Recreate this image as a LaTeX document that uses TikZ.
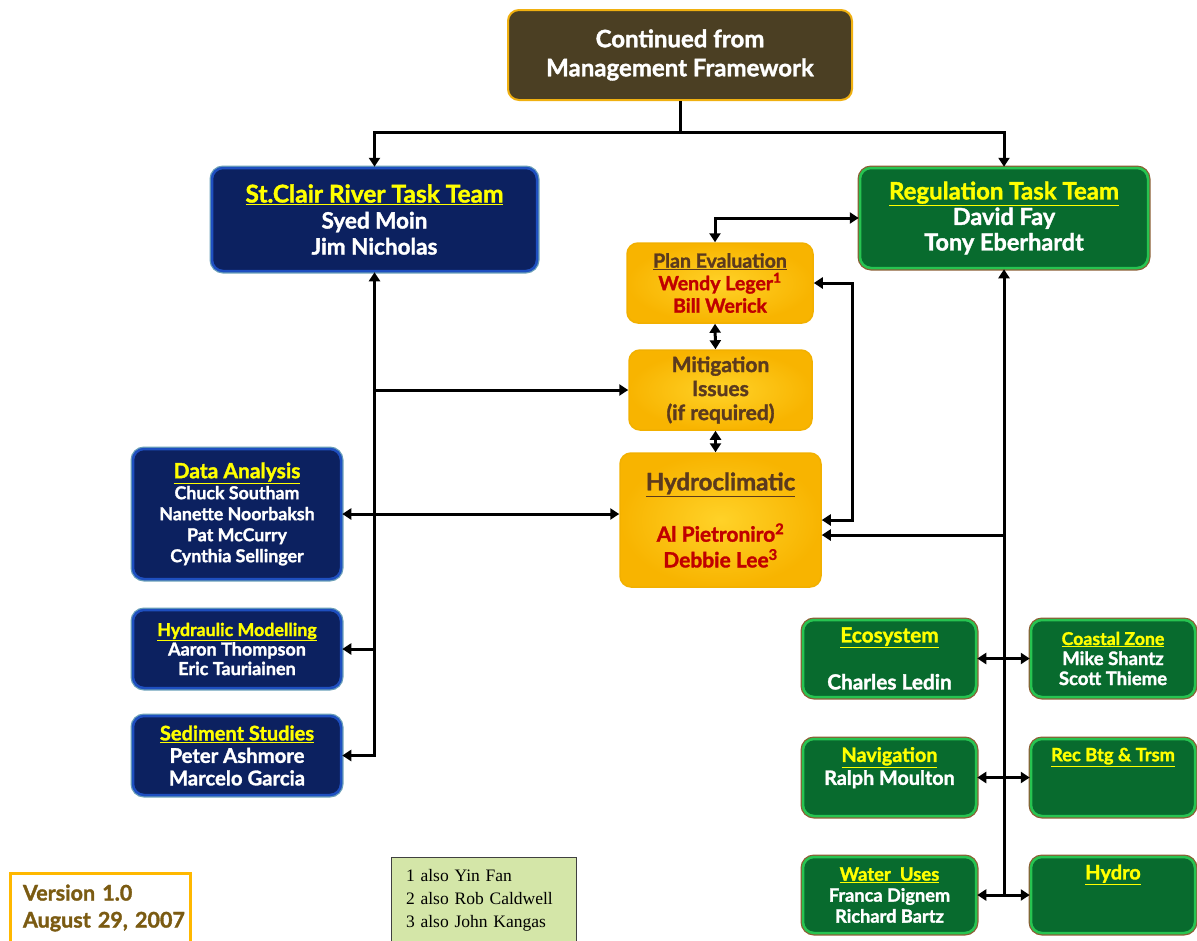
\documentclass[tikz,border=0pt]{standalone}
\usepackage{fontspec}
\setmainfont{Lato}[BoldFeatures={FakeBold=1.5}]
\newfontfamily\serifnote{Liberation Serif}
\usetikzlibrary{arrows.meta}
\definecolor{topfill}{HTML}{4B3F23}
\definecolor{topedge}{HTML}{F0B010}
\definecolor{navy}{HTML}{0C2160}
\definecolor{navyedge}{HTML}{1E4FC0}
\definecolor{navyout}{HTML}{6A9FB8}
\definecolor{grn}{HTML}{086B2E}
\definecolor{grnedge}{HTML}{27C451}
\definecolor{grnout}{HTML}{8B5E34}
\definecolor{orin}{HTML}{FFD228}
\definecolor{orout}{HTML}{F8B400}
\definecolor{oredge}{HTML}{F2B000}
\definecolor{brn}{HTML}{5B3A1E}
\definecolor{redt}{HTML}{C00000}
\definecolor{ylw}{HTML}{FFFF00}
\definecolor{vers}{HTML}{7B5B12}
\definecolor{verbox}{HTML}{FFB800}
\definecolor{notefill}{HTML}{D4E6A8}
\tikzset{
  x=1pt,y=-1pt,
  box/.style={rounded corners=11pt, inner sep=0pt, align=center, font=\bfseries},
  topbox/.style={box, fill=topfill, draw=topedge, line width=2pt, text=white},
  navybox/.style={box, fill=navy, draw=navyedge, line width=2.5pt, text=white,
     preaction={draw=navyout, line width=5pt}},
  grnbox/.style={box, fill=grn, draw=grnedge, line width=2.5pt, text=white,
     preaction={draw=grnout, line width=5pt}},
  orbox/.style={box, inner color=orin, outer color=orout, draw=oredge, line width=1.5pt, text=brn},
  conn/.style={line width=3pt, draw=black},
  arr/.style={conn, -{Triangle[length=9pt,width=11pt]}},
  dbl/.style={conn, {Triangle[length=9pt,width=11pt]}-{Triangle[length=9pt,width=11pt]}},
}
\newcommand{\ttl}[1]{\textcolor{ylw}{\underline{#1}}}
\newcommand{\rd}[1]{\textcolor{redt}{#1}}
\newcommand{\fs}[2]{\fontsize{#1}{#2}\selectfont}
\begin{document}
\begin{tikzpicture}
\useasboundingbox (0,0) rectangle (1197,940);
\clip (0,0) rectangle (1197,940);
% top
\node[topbox, minimum width=344, minimum height=90, font=\bfseries\fs{24}{29}] (top) at (680,55) {Continued from\\Management Framework};
% task teams
\node[navybox, minimum width=325, minimum height=103, font=\bfseries\fs{22.5}{26}] (stc) at (374.5,219.5) {{\fs{24.5}{26}\ttl{St.Clair River Task Team}}\\Syed Moin\\Jim Nicholas};
\node[grnbox, minimum width=288, minimum height=100, font=\bfseries\fs{23.5}{25.5}] (reg) at (1004,218) {{\fs{24}{25.5}\ttl{Regulation Task Team}}\\David Fay\\Tony Eberhardt};
% orange boxes
\node[orbox, minimum width=186, minimum height=80, font=\bfseries\fs{19.5}{22.5}] (plan) at (720,283) {\underline{Plan Evaluation}\\\rd{Wendy Leger\textsuperscript{1}}\\\rd{Bill Werick}};
\node[orbox, minimum width=183, minimum height=80, font=\bfseries\fs{21}{24}] (miti) at (720.5,390) {Mitigation\\Issues\\(if required)};
\node[orbox, minimum width=201, minimum height=134, font=\bfseries\fs{21}{25.7}] (hydroc) at (720.5,520) {{\fs{24}{25.7}\underline{Hydroclimatic}}\\~\\\rd{Al Pietroniro\textsuperscript{2}}\\\rd{Debbie Lee\textsuperscript{3}}};
% left column
\node[navybox, minimum width=208, minimum height=130, font=\bfseries\fs{17.8}{21}] (data) at (237,514) {{\fs{21}{21}\ttl{Data Analysis}}\\Chuck Southam\\Nanette Noorbaksh\\Pat McCurry\\Cynthia Sellinger};
\node[navybox, minimum width=208, minimum height=78, font=\bfseries\fs{18}{19.5}] (hyd) at (237,649) {{\fs{17.8}{19.5}\ttl{Hydraulic Modelling}}\\Aaron Thompson\\Eric Tauriainen};
\node[navybox, minimum width=208, minimum height=79, font=\bfseries\fs{20.3}{22.5}] (sed) at (237,755.5) {{\fs{20}{22.5}\ttl{Sediment Studies}}\\Peter Ashmore\\Marcelo Garcia};
% right groups
\node[grnbox, minimum width=173, minimum height=77, font=\bfseries\fs{20.8}{23.5}] (eco) at (889.5,658.5) {\ttl{Ecosystem}\\~\\Charles Ledin};
\node[grnbox, minimum width=164, minimum height=77, font=\bfseries\fs{18.5}{20}] (coast) at (1113,658.5) {{\fs{17.7}{20}\ttl{Coastal Zone}}\\Mike Shantz\\Scott Thieme};
\node[grnbox, minimum width=173, minimum height=77, font=\bfseries\fs{19.8}{23}] (nav) at (889.5,777.5) {\ttl{Navigation}\\Ralph Moulton\\~};
\node[grnbox, minimum width=164, minimum height=77, font=\bfseries\fs{18.3}{23}] (rec) at (1113,777.5) {\ttl{Rec Btg \& Trsm}\\~\\~};
\node[grnbox, minimum width=173, minimum height=76, font=\bfseries\fs{18.2}{21}] (wat) at (889.5,895) {{\fs{18.5}{21}\ttl{Water\ \ Uses}}\\Franca Dignem\\Richard Bartz};
\node[grnbox, minimum width=164, minimum height=76, font=\bfseries\fs{20}{23}] (hydro) at (1113,895) {\ttl{Hydro}\\~\\~};
% version and note
\node[draw=verbox, line width=3pt, minimum width=180, minimum height=70, text width=178pt, inner sep=0pt, align=left, text=vers, font=\bfseries\fs{21.5}{27}] (ver) at (100,908) {\hspace*{12pt}Version 1.0\\\hspace*{12pt}August 29, 2007};
\node[draw=black!75, fill=notefill, line width=1pt, minimum width=185, minimum height=86, text width=155pt, inner sep=0pt, align=left, font=\serifnote\fs{17.5}{23}] (note) at (483.5,900) {1 also Yin Fan\\2 also Rob Caldwell\\3 also John Kangas};
% connectors
\coordinate (j) at (680,132);
\draw[conn] (top.south) -- (j);
\draw[arr] (j) -| (stc.north);
\draw[arr] (j) -| (reg.north);
\draw[dbl] ([xshift=-5pt]plan.north) |- (reg.west);
\draw[dbl] ([xshift=-5pt]plan.south) -- ([xshift=-5pt]miti.north);
\draw[dbl] ([xshift=-5pt]miti.south) -- ([xshift=-5pt]hydroc.north);
% left spine
\draw[dbl] (stc.south) |- (sed.east);
\draw[arr] (stc.south |- hyd.east) -- (hyd.east);
\draw[arr] (stc.south |- miti.west) -- (miti.west);
\draw[dbl] (data.east) -- (data.east -| hydroc.west);
% right loop
\coordinate (lp) at (852,283);
\draw[dbl] (plan.east) -- (lp) |- (hydroc.east);
% right spine
\draw[arr] (reg.south |- wat.east) -- (reg.south);
\draw[arr] (reg.south |- 0,535) -- ([yshift=-15pt]hydroc.east);
\draw[dbl] (eco.east) -- (coast.west);
\draw[dbl] (nav.east) -- (rec.west);
\draw[dbl] (wat.east) -- (hydro.west);
\end{tikzpicture}
\end{document}
